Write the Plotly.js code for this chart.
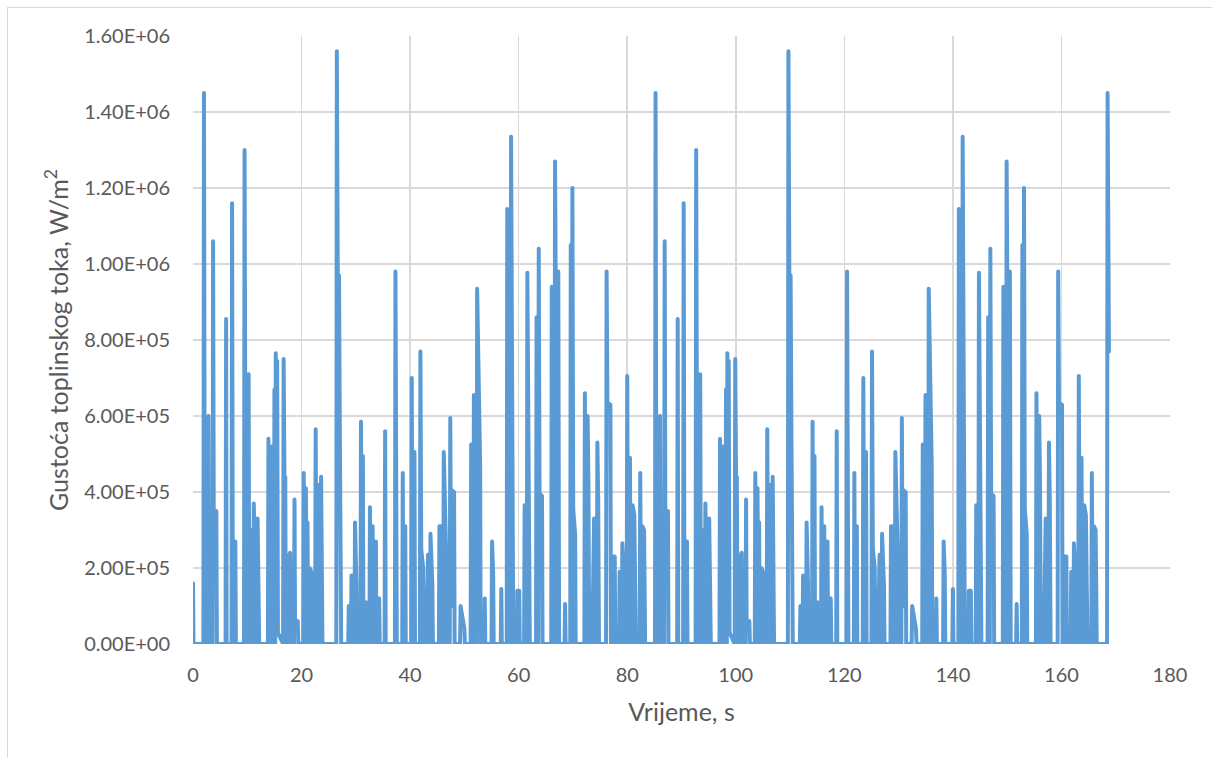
<!DOCTYPE html>
<html>
<head>
<meta charset="utf-8">
<script src="https://cdn.plot.ly/plotly-3.0.1.min.js"></script>
<style>
  html, body { margin: 0; padding: 0; background: #ffffff; overflow: hidden; }
  #wrap { position: relative; width: 1212px; height: 758px; }
  #chart { position: absolute; left: 0; top: 0; width: 1212px; height: 758px; }
  #frame { position: absolute; left: 7px; top: 7px; width: 1300px; height: 900px;
           border-left: 1.5px solid #d9d9d9; border-top: 1.5px solid #d9d9d9; pointer-events: none; }
  #chart .js-line { stroke-linejoin: round !important; stroke-linecap: round !important; }
</style>
</head>
<body>
<div id="wrap"><div id="chart"></div><div id="frame"></div></div>
<script>
// Time (s) and heat flux density (W/m^2).
// First cycle (0 - 83 s)
const time1 = [0,0.1,
  1.92,2.02,2.15,2.3,2.4,2.55,2.85,2.95,3.15,3.25,3.35,3.6,3.7,3.82,4.3,4.4,
  6.0,6.1,6.2,7.1,7.2,7.35,7.7,7.8,7.9,
  9.4,9.5,9.62,9.75,10.15,10.25,10.35,10.45,10.7,10.8,10.9,11.1,11.2,11.35,11.45,11.8,11.9,12.1,12.2,
  13.8,13.9,14.0,14.4,14.5,14.6,14.9,15.0,15.1,15.15,15.25,15.4,15.5,15.65,16.6,16.7,16.85,17.0,17.1,17.5,17.6,17.9,18.0,18.6,18.7,18.8,19.3,19.4,
  20.3,20.4,20.55,20.7,20.8,20.9,21.0,21.1,21.2,21.4,21.5,21.8,21.9,22.5,22.6,22.75,22.9,23.0,23.5,23.6,23.75,23.85,
  26.4,26.5,26.7,26.9,27.05,27.2,27.3,
  28.6,28.7,28.8,29.1,29.2,29.3,29.75,29.85,30.1,30.2,30.85,30.95,31.1,31.3,31.4,31.75,31.85,31.95,32.5,32.6,32.7,33.0,33.1,33.2,33.6,33.7,33.8,34.0,34.3,34.4,
  35.3,35.4,35.5,37.2,37.3,37.45,37.55,38.55,38.65,38.75,39.0,39.1,39.2,
  40.2,40.3,40.45,40.7,40.8,40.9,41.8,41.9,42.05,42.4,42.5,43.0,43.1,43.3,43.4,43.65,43.75,44.1,44.2,
  45.3,45.4,45.7,45.8,46.1,46.2,46.4,46.6,46.7,47.3,47.4,47.55,47.65,48.1,48.2,
  49.2,49.3,49.7,50.0,50.1,
  51.15,51.25,51.35,51.65,51.75,51.85,52.25,52.35,52.55,52.9,53.0,53.65,53.75,53.85,
  55.0,55.1,55.3,55.4,56.7,56.8,56.9,
  57.8,57.9,58.05,58.15,58.5,58.6,58.75,58.9,59.0,59.65,59.75,60.1,60.2,
  61.0,61.1,61.2,61.5,61.6,61.75,61.95,62.05,63.2,63.3,63.4,63.6,63.7,63.85,64.3,64.4,
  66.0,66.1,66.25,66.6,66.7,66.85,67.0,67.2,67.3,67.45,68.45,68.55,68.65,
  69.5,69.6,69.7,69.8,69.9,70.05,70.4,70.5,
  72.1,72.2,72.35,72.6,72.7,72.85,73.0,73.3,73.35,73.7,73.9,74.0,74.4,74.5,74.65,74.8,
  76.1,76.2,76.35,76.9,77.0,77.3,77.35,77.7,77.8,
  78.5,78.6,78.7,79.0,79.1,79.5,79.6,79.9,80.0,80.15,80.4,80.5,80.65,80.9,81.0,81.3,81.45,81.6,
  82.3,82.4,82.55,82.7,82.8,83.1];
const flux1 = [0.16e6,0,
  0,1.45e6,0.365e6,0.365e6,0,0.56e6,0.60e6,0,0,0.33e6,0,0,1.06e6,0.35e6,0.35e6,0,
  0,0.855e6,0,0,1.16e6,0,0,0.27e6,0,
  0,1.30e6,0.25e6,0,0,0.71e6,0.12e6,0,0,0.30e6,0,0,0.37e6,0.25e6,0,0,0.33e6,0.10e6,0,
  0,0.54e6,0,0,0.52e6,0,0,0.67e6,0,0,0.765e6,0.2e6,0.745e6,0.03e6,0,0.75e6,0.44e6,0.44e6,0,0,0.23e6,0.24e6,0,0,0.38e6,0.05e6,0.06e6,0,
  0,0.45e6,0.05e6,0.05e6,0.41e6,0,0,0.32e6,0,0,0.2e6,0.19e6,0,0,0.565e6,0.1e6,0.42e6,0,0,0.44e6,0.18e6,0,
  0,1.56e6,0.865e6,0.97e6,0.56e6,0.28e6,0,
  0,0.1e6,0,0,0.18e6,0,0,0.32e6,0.16e6,0,0,0.585e6,0.05e6,0.495e6,0,0,0.11e6,0,0,0.36e6,0,0,0.31e6,0.05e6,0,0.27e6,0,0.115e6,0.12e6,0,
  0,0.56e6,0,0,0.98e6,0.26e6,0,0,0.45e6,0,0,0.31e6,0,
  0,0.70e6,0.05e6,0,0.505e6,0,0,0.77e6,0.25e6,0.2e6,0,0,0.09e6,0.235e6,0,0,0.29e6,0.155e6,0,
  0,0.31e6,0.31e6,0,0,0.505e6,0.42e6,0.26e6,0,0,0.595e6,0.1e6,0.405e6,0.40e6,0,
  0,0.1e6,0.06e6,0.04e6,0,
  0,0.525e6,0,0,0.655e6,0,0,0.935e6,0.73e6,0.47e6,0,0,0.12e6,0,
  0,0.27e6,0.185e6,0,0,0.145e6,0,
  0,1.145e6,0.885e6,0.3e6,0,1.335e6,0.885e6,0.26e6,0,0,0.14e6,0.14e6,0,
  0,0.365e6,0,0,0.977e6,0.47e6,0.26e6,0,0,0.86e6,0,0,1.04e6,0.395e6,0.39e6,0,
  0,0.94e6,0.1e6,0,1.27e6,0.845e6,0.4e6,0,0.98e6,0,0,0.105e6,0,
  0,1.05e6,0.2e6,0,1.20e6,0.355e6,0.29e6,0,
  0,0.66e6,0.05e6,0,0.60e6,0.43e6,0,0,0.12e6,0.135e6,0.33e6,0,0,0.53e6,0.38e6,0,
  0,0.98e6,0.635e6,0.63e6,0,0,0.23e6,0.23e6,0,
  0,0.19e6,0,0,0.265e6,0.15e6,0,0,0.705e6,0.1e6,0,0.49e6,0,0,0.365e6,0.34e6,0.165e6,0,
  0,0.45e6,0.05e6,0,0.31e6,0.30e6];

// Second cycle (83 - 166 s)
const time2 = [83.2,83.3,
  85.12,85.22,85.35,85.5,85.6,85.75,86.05,86.15,86.35,86.45,86.55,86.8,86.9,87.02,87.5,87.6,
  89.2,89.3,89.4,90.3,90.4,90.55,90.9,91.0,91.1,
  92.6,92.7,92.82,92.95,93.35,93.45,93.55,93.65,93.9,94.0,94.1,94.3,94.4,94.55,94.65,95.0,95.1,95.3,95.4,
  97.0,97.1,97.2,97.6,97.7,97.8,98.1,98.2,98.3,98.35,98.45,98.6,98.7,98.85,99.8,99.9,100.05,100.2,100.3,100.7,100.8,101.1,101.2,101.8,101.9,102.0,102.5,102.6,
  103.5,103.6,103.75,103.9,104.0,104.1,104.2,104.3,104.4,104.6,104.7,105.0,105.1,105.7,105.8,105.95,106.1,106.2,106.7,106.8,106.95,107.05,
  109.6,109.7,109.9,110.1,110.25,110.4,110.5,
  111.8,111.9,112.0,112.3,112.4,112.5,112.95,113.05,113.3,113.4,114.05,114.15,114.3,114.5,114.6,114.95,115.05,115.15,115.7,115.8,115.9,116.2,116.3,116.4,116.8,116.9,117.0,117.2,117.5,117.6,
  118.5,118.6,118.7,120.4,120.5,120.65,120.75,121.75,121.85,121.95,122.2,122.3,122.4,
  123.4,123.5,123.65,123.9,124.0,124.1,125.0,125.1,125.25,125.6,125.7,126.2,126.3,126.5,126.6,126.85,126.95,127.3,127.4,
  128.5,128.6,128.9,129.0,129.3,129.4,129.6,129.8,129.9,130.5,130.6,130.75,130.85,131.3,131.4,
  132.4,132.5,132.9,133.2,133.3,
  134.35,134.45,134.55,134.85,134.95,135.05,135.45,135.55,135.75,136.1,136.2,136.85,136.95,137.05,
  138.2,138.3,138.5,138.6,139.9,140.0,140.1,
  141.0,141.1,141.25,141.35,141.7,141.8,141.95,142.1,142.2,142.85,142.95,143.3,143.4,
  144.2,144.3,144.4,144.7,144.8,144.95,145.15,145.25,146.4,146.5,146.6,146.8,146.9,147.05,147.5,147.6,
  149.2,149.3,149.45,149.8,149.9,150.05,150.2,150.4,150.5,150.65,151.65,151.75,151.85,
  152.7,152.8,152.9,153.0,153.1,153.25,153.6,153.7,
  155.3,155.4,155.55,155.8,155.9,156.05,156.2,156.5,156.55,156.9,157.1,157.2,157.6,157.7,157.85,158.0,
  159.3,159.4,159.55,160.1,160.2,160.5,160.55,160.9,161.0,
  161.7,161.8,161.9,162.2,162.3,162.7,162.8,163.1,163.2,163.35,163.6,163.7,163.85,164.1,164.2,164.5,164.65,164.8,
  165.5,165.6,165.75,165.9,166.0,166.3];
const flux2 = [0.16e6,0,
  0,1.45e6,0.365e6,0.365e6,0,0.56e6,0.60e6,0,0,0.33e6,0,0,1.06e6,0.35e6,0.35e6,0,
  0,0.855e6,0,0,1.16e6,0,0,0.27e6,0,
  0,1.30e6,0.25e6,0,0,0.71e6,0.12e6,0,0,0.30e6,0,0,0.37e6,0.25e6,0,0,0.33e6,0.10e6,0,
  0,0.54e6,0,0,0.52e6,0,0,0.67e6,0,0,0.765e6,0.2e6,0.745e6,0.03e6,0,0.75e6,0.44e6,0.44e6,0,0,0.23e6,0.24e6,0,0,0.38e6,0.05e6,0.06e6,0,
  0,0.45e6,0.05e6,0.05e6,0.41e6,0,0,0.32e6,0,0,0.2e6,0.19e6,0,0,0.565e6,0.1e6,0.42e6,0,0,0.44e6,0.18e6,0,
  0,1.56e6,0.865e6,0.97e6,0.56e6,0.28e6,0,
  0,0.1e6,0,0,0.18e6,0,0,0.32e6,0.16e6,0,0,0.585e6,0.05e6,0.495e6,0,0,0.11e6,0,0,0.36e6,0,0,0.31e6,0.05e6,0,0.27e6,0,0.115e6,0.12e6,0,
  0,0.56e6,0,0,0.98e6,0.26e6,0,0,0.45e6,0,0,0.31e6,0,
  0,0.70e6,0.05e6,0,0.505e6,0,0,0.77e6,0.25e6,0.2e6,0,0,0.09e6,0.235e6,0,0,0.29e6,0.155e6,0,
  0,0.31e6,0.31e6,0,0,0.505e6,0.42e6,0.26e6,0,0,0.595e6,0.1e6,0.405e6,0.40e6,0,
  0,0.1e6,0.06e6,0.04e6,0,
  0,0.525e6,0,0,0.655e6,0,0,0.935e6,0.73e6,0.47e6,0,0,0.12e6,0,
  0,0.27e6,0.185e6,0,0,0.145e6,0,
  0,1.145e6,0.885e6,0.3e6,0,1.335e6,0.885e6,0.26e6,0,0,0.14e6,0.14e6,0,
  0,0.365e6,0,0,0.977e6,0.47e6,0.26e6,0,0,0.86e6,0,0,1.04e6,0.395e6,0.39e6,0,
  0,0.94e6,0.1e6,0,1.27e6,0.845e6,0.4e6,0,0.98e6,0,0,0.105e6,0,
  0,1.05e6,0.2e6,0,1.20e6,0.355e6,0.29e6,0,
  0,0.66e6,0.05e6,0,0.60e6,0.43e6,0,0,0.12e6,0.135e6,0.33e6,0,0,0.53e6,0.38e6,0,
  0,0.98e6,0.635e6,0.63e6,0,0,0.23e6,0.23e6,0,
  0,0.19e6,0,0,0.265e6,0.15e6,0,0,0.705e6,0.1e6,0,0.49e6,0,0,0.365e6,0.34e6,0.165e6,0,
  0,0.45e6,0.05e6,0,0.31e6,0.30e6];

// Final part (166 - 169 s)
const time3 = [166.4,166.5,168.4,168.5,168.75];
const flux3 = [0.16e6,0,0,1.45e6,0.77e6];

const yTickVals = [0,2e5,4e5,6e5,8e5,1e6,1.2e6,1.4e6,1.6e6];
const yTickText = ["0.00E+00","2.00E+05","4.00E+05","6.00E+05","8.00E+05","1.00E+06","1.20E+06","1.40E+06","1.60E+06"];
const xTickVals = [0,20,40,60,80,100,120,140,160,180];
const xTickText = ["0","20","40","60","80","100","120","140","160","180"];

const timeAll = time1.concat(time2, time3);
const fluxAll = flux1.concat(flux2, flux3);

const font = "Lato, 'Open Sans', 'DejaVu Sans', sans-serif";
const trace = {
  x: timeAll, y: fluxAll, type: "scatter", mode: "lines",
  line: { color: "#5B9BD5", width: 4 },
  hoverinfo: "x+y"
};
const layout = {
  width: 1212, height: 758,
  margin: { l: 193, r: 42, t: 36, b: 114 },
  paper_bgcolor: "#ffffff", plot_bgcolor: "#ffffff",
  showlegend: false,
  font: { family: font, color: "#595959" },
  xaxis: {
    range: [0, 180], tickvals: xTickVals, ticktext: xTickText,
    showgrid: true, gridcolor: "#d9d9d9", gridwidth: 1.5,
    zeroline: false, showline: false,
    ticks: "outside", ticklen: 13, tickcolor: "rgba(0,0,0,0)",
    tickfont: { family: font, size: 20, color: "#595959" },
    title: { text: "Vrijeme, s", font: { family: font, size: 25, color: "#595959" }, standoff: 18 },
    automargin: false, fixedrange: true
  },
  yaxis: {
    range: [0, 1.6e6], tickvals: yTickVals, ticktext: yTickText,
    showgrid: true, gridcolor: "#d9d9d9", gridwidth: 1.5,
    zeroline: false, showline: false,
    ticks: "outside", ticklen: 18, tickcolor: "rgba(0,0,0,0)",
    tickfont: { family: font, size: 20, color: "#595959" },
    title: { text: "Gustoća toplinskog toka, W/m<sup>2</sup>", font: { family: font, size: 25, color: "#595959" }, standoff: 8 },
    automargin: false, fixedrange: true
  }
};
Plotly.newPlot("chart", [trace], layout, { displayModeBar: false, staticPlot: true });
</script>
</body>
</html>
